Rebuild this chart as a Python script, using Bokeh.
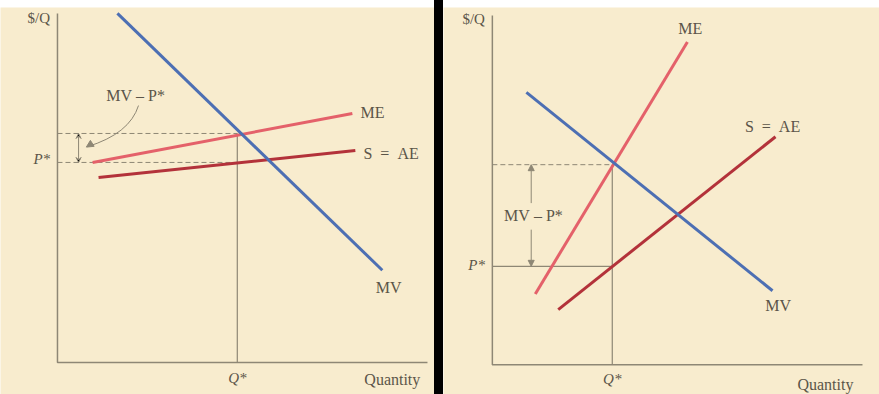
from bokeh.plotting import figure
from bokeh.layouts import row
from bokeh.models import Range1d, Arrow, NormalHead, VeeHead, Spacer
from bokeh.core.properties import value
from bokeh.embed import file_html
from bokeh.resources import INLINE

# ---------------- data (left panel: ME flatter than S=AE) ----------------
L_axis_x = [0, 0, 10]
L_axis_y = [10, 0, 0]
L_MV_x = [1.62, 8.78]
L_MV_y = [10.0, 2.64]
L_ME_x = [0.95, 7.97]
L_ME_y = [5.73, 7.13]
L_AE_x = [1.11, 8.05]
L_AE_y = [5.30, 6.07]
L_Qstar = 4.86
L_MVstar = 6.56
L_Pstar = 5.73

# ---------------- data (right panel: steep ME) ----------------
R_axis_x = [0, 0, 10]
R_axis_y = [10, 0, 0]
R_MV_x = [0.92, 7.57]
R_MV_y = [7.80, 2.12]
R_ME_x = [1.16, 5.27]
R_ME_y = [2.03, 9.24]
R_AE_x = [1.78, 7.65]
R_AE_y = [1.58, 6.53]
R_Qstar = 3.24
R_MVstar = 5.73
R_Pstar = 2.82

# labels
L_lab_x = [8.19, 8.27, 8.95]
L_lab_y = [7.15, 5.99, 2.15]
L_lab_t = ["ME", "S\u2002=\u2002AE", "MV"]
L_lab_align = ["left", "left", "center"]
R_lab_x = [5.35, 7.57, 7.72]
R_lab_y = [9.63, 6.81, 1.70]
R_lab_t = ["ME", "S\u2002=\u2002AE", "MV"]
GAP_LABEL = "MV\u2005\u2013\u2005P*"

CREAM = "#f8ecce"
AXIS = "#8e8775"
TEXT = "#5b5549"
BLUE = "#4d6fb3"
ME_C = "#e4616a"
AE_C = "#b3323a"
FONT = value("Liberation Serif")


def base(width, xr, yr, top):
    p = figure(width=width, height=394, x_range=Range1d(*xr), y_range=Range1d(*yr),
               x_axis_type=None, y_axis_type=None, output_backend="svg",
               toolbar_location=None, min_border_left=0, min_border_right=0,
               min_border_bottom=0, min_border_top=top,
               background_fill_color=CREAM, border_fill_color="white")
    p.grid.visible = False
    p.outline_line_color = None
    return p


def txt(p, x, y, t, align="center", style="normal", size="16px"):
    p.text(x=x, y=y, text=t, text_font=FONT, text_font_size=size,
           text_color=TEXT, text_align=align, text_baseline="middle",
           text_font_style=style)


# ---------------- left ----------------
pl = base(434, (-1.54, 10.19), (-0.92, 10.17), 7)
pl.line(L_axis_x, L_axis_y, line_color=AXIS, line_width=1.5)
pl.segment(x0=[0, 0], y0=[L_MVstar, L_Pstar], x1=[L_Qstar, L_Qstar], y1=[L_MVstar, L_Pstar],
           line_color=AXIS, line_width=1, line_dash="5 3")
pl.segment(x0=[L_Qstar], y0=[0], x1=[L_Qstar], y1=[L_MVstar], line_color=AXIS, line_width=1.2)
pl.line(L_AE_x, L_AE_y, line_color=AE_C, line_width=3)
pl.line(L_ME_x, L_ME_y, line_color=ME_C, line_width=3)
pl.line(L_MV_x, L_MV_y, line_color=BLUE, line_width=3)
pl.add_layout(Arrow(x_start=0.57, y_start=L_Pstar, x_end=0.57, y_end=L_MVstar,
                    start=VeeHead(size=5, line_color=AXIS, line_width=1),
                    end=VeeHead(size=5, line_color=AXIS, line_width=1),
                    line_color=AXIS, line_width=1))
# curved pointer from label to the gap
pl.quadratic(x0=[2.19], y0=[7.36], x1=[0.80], y1=[6.18], cx=[1.95], cy=[6.55],
             line_color=AXIS, line_width=1)
pl.add_layout(Arrow(x_start=0.90, y_start=6.25, x_end=0.78, y_end=6.17,
                    end=NormalHead(size=7, fill_color=AXIS, line_color=AXIS),
                    line_color=AXIS, line_width=1))
for x, y, t, a in zip(L_lab_x, L_lab_y, L_lab_t, L_lab_align):
    txt(pl, [x], [y], [t], align=a)
txt(pl, [2.11], [7.64], [GAP_LABEL])
txt(pl, [-0.2], [5.82], ["P*"], align="right", style="italic", size="15px")
txt(pl, [L_Qstar], [-0.46], ["Q*"], style="italic", size="15px")
txt(pl, [9.05], [-0.48], ["Quantity"])
txt(pl, [-0.2], [9.88], ["$/Q"], align="right", size="15px")

# ---------------- right ----------------
pr = base(436, (-1.32, 10.46), (-0.85, 10.23), 2)
pr.line(R_axis_x, R_axis_y, line_color=AXIS, line_width=1.5)
pr.segment(x0=[0], y0=[R_MVstar], x1=[R_Qstar], y1=[R_MVstar],
           line_color=AXIS, line_width=1, line_dash="5 3")
pr.segment(x0=[0, R_Qstar], y0=[R_Pstar, 0], x1=[R_Qstar, R_Qstar], y1=[R_Pstar, R_MVstar],
           line_color=AXIS, line_width=1.2)
pr.line(R_AE_x, R_AE_y, line_color=AE_C, line_width=3)
pr.line(R_ME_x, R_ME_y, line_color=ME_C, line_width=3)
pr.line(R_MV_x, R_MV_y, line_color=BLUE, line_width=3)
pr.add_layout(Arrow(x_start=1.05, y_start=4.63, x_end=1.05, y_end=R_MVstar,
                    end=NormalHead(size=6, fill_color=AXIS, line_color=AXIS),
                    line_color=AXIS, line_width=1))
pr.add_layout(Arrow(x_start=1.05, y_start=3.87, x_end=1.05, y_end=R_Pstar,
                    end=NormalHead(size=6, fill_color=AXIS, line_color=AXIS),
                    line_color=AXIS, line_width=1))
for x, y, t in zip(R_lab_x, R_lab_y, R_lab_t):
    txt(pr, [x], [y], [t])
txt(pr, [1.11], [4.27], [GAP_LABEL])
txt(pr, [-0.2], [2.87], ["P*"], align="right", style="italic", size="15px")
txt(pr, [R_Qstar], [-0.42], ["Q*"], style="italic", size="15px")
txt(pr, [9.0], [-0.56], ["Quantity"])
txt(pr, [-0.2], [9.9], ["$/Q"], align="right", size="15px")

sep = Spacer(width=9, height=394, styles={"background-color": "black"})
layout = row(pl, sep, pr)
open("out.html", "w").write(file_html(layout, INLINE))
